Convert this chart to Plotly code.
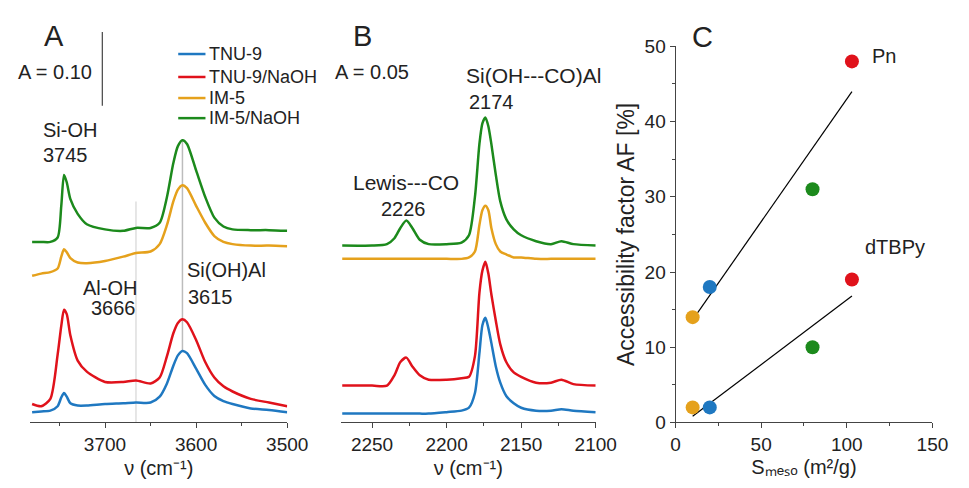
import numpy as np
import plotly.graph_objects as go

W, H = 969, 488
FONT = "Arial, Liberation Sans, sans-serif"

# ---------------- Panel A data (OH region, stacked spectra, absorbance) -------------
nu_A = [3780, 3770, 3760, 3752, 3748, 3745, 3742, 3738, 3730, 3720, 3700, 3680, 3666,
        3650, 3640, 3632, 3625, 3620, 3615, 3610, 3600, 3590, 3580, 3570, 3560, 3540,
        3520, 3500]
A_tnu9 = [0.014, 0.015, 0.016, 0.022, 0.034, 0.040, 0.035, 0.026, 0.023, 0.023, 0.025,
          0.026, 0.027, 0.027, 0.035, 0.053, 0.077, 0.091, 0.097, 0.094, 0.073, 0.051,
          0.036, 0.029, 0.025, 0.019, 0.017, 0.014]
A_tnu9_naoh = [0.025, 0.022, 0.032, 0.092, 0.131, 0.153, 0.147, 0.118, 0.084, 0.069,
               0.055, 0.055, 0.057, 0.053, 0.061, 0.090, 0.121, 0.135, 0.140, 0.136,
               0.112, 0.082, 0.061, 0.049, 0.042, 0.032, 0.027, 0.022]
A_im5 = [0.199, 0.202, 0.204, 0.209, 0.225, 0.235, 0.231, 0.223, 0.217, 0.216, 0.219,
         0.225, 0.230, 0.232, 0.242, 0.268, 0.300, 0.316, 0.322, 0.318, 0.294, 0.271,
         0.253, 0.245, 0.242, 0.240, 0.240, 0.239]
A_im5_naoh = [0.245, 0.245, 0.245, 0.251, 0.294, 0.336, 0.326, 0.303, 0.283, 0.269,
              0.262, 0.260, 0.264, 0.264, 0.271, 0.306, 0.352, 0.375, 0.383, 0.378,
              0.342, 0.306, 0.278, 0.266, 0.262, 0.261, 0.261, 0.260]

# ---------------- Panel B data (CO region) -------------
nu_B = [2270, 2250, 2240, 2235, 2231, 2227, 2223, 2218, 2212, 2200, 2190, 2185, 2181,
        2178, 2176, 2174, 2172, 2170, 2167, 2164, 2160, 2155, 2150, 2140, 2130, 2123,
        2115, 2100]
B_tnu9 = [0.006, 0.006, 0.006, 0.006, 0.006, 0.006, 0.006, 0.006, 0.006, 0.007, 0.008,
          0.010, 0.020, 0.047, 0.066, 0.071, 0.064, 0.054, 0.038, 0.027, 0.018, 0.013,
          0.010, 0.008, 0.008, 0.009, 0.008, 0.007]
B_tnu9_naoh = [0.025, 0.025, 0.025, 0.032, 0.041, 0.044, 0.038, 0.032, 0.029, 0.029,
               0.030, 0.031, 0.045, 0.088, 0.103, 0.109, 0.101, 0.087, 0.069, 0.053,
               0.041, 0.034, 0.031, 0.027, 0.027, 0.029, 0.026, 0.025]
B_im5 = [0.111, 0.111, 0.111, 0.111, 0.111, 0.111, 0.111, 0.111, 0.111, 0.111, 0.111,
         0.112, 0.116, 0.134, 0.144, 0.147, 0.144, 0.132, 0.121, 0.116, 0.114, 0.112,
         0.112, 0.111, 0.111, 0.111, 0.111, 0.111]
B_im5_naoh = [0.120, 0.120, 0.121, 0.125, 0.132, 0.137, 0.132, 0.124, 0.121, 0.121,
              0.122, 0.127, 0.153, 0.189, 0.203, 0.207, 0.201, 0.189, 0.168, 0.150,
              0.138, 0.131, 0.127, 0.123, 0.121, 0.123, 0.121, 0.120]

# ---------------- Panel C data -------------
samples = ["IM-5", "TNU-9", "IM-5/NaOH", "TNU-9/NaOH"]
s_meso = [10, 20, 80, 103]
af_pn = [14, 18, 31, 48]
af_dtbpy = [2, 2, 10, 19]

series_names = ["TNU-9", "TNU-9/NaOH", "IM-5", "IM-5/NaOH"]
colors = {"TNU-9": "#1f78c1", "TNU-9/NaOH": "#e0121b",
          "IM-5": "#e5a11c", "IM-5/NaOH": "#1c8a1c"}
sample_colors = [colors[s] for s in samples]

A_data = dict(zip(series_names, [A_tnu9, A_tnu9_naoh, A_im5, A_im5_naoh]))
B_data = dict(zip(series_names, [B_tnu9, B_tnu9_naoh, B_im5, B_im5_naoh]))


def px(x):
    return x / W


def py(y):
    return 1 - y / H


fig = go.Figure()

for name in series_names:
    fig.add_trace(go.Scatter(x=nu_A, y=A_data[name], mode="lines", name=name,
                             line=dict(color=colors[name], width=2.5, shape="spline",
                                       smoothing=0.7),
                             xaxis="x", yaxis="y", showlegend=False))
for name in series_names:
    fig.add_trace(go.Scatter(x=nu_B, y=B_data[name], mode="lines", name=name,
                             line=dict(color=colors[name], width=2.5, shape="spline",
                                       smoothing=0.7),
                             xaxis="x2", yaxis="y2", showlegend=False))

# Panel C least-squares fits
for vals in (af_pn, af_dtbpy):
    k, b = np.polyfit(s_meso, vals, 1)
    xs = [min(s_meso), max(s_meso)]
    fig.add_trace(go.Scatter(x=xs, y=[k * v + b for v in xs], mode="lines",
                             line=dict(color="black", width=1.2), showlegend=False,
                             xaxis="x3", yaxis="y3", hoverinfo="skip"))
for vals in (af_pn, af_dtbpy):
    fig.add_trace(go.Scatter(x=s_meso, y=vals, mode="markers", showlegend=False,
                             text=samples,
                             marker=dict(color=sample_colors, size=14),
                             xaxis="x3", yaxis="y3"))

y_bot = py(431)
axis_common = dict(showgrid=False, zeroline=False, showline=True, linecolor="#444",
                   linewidth=1, ticks="outside", ticklen=5, tickcolor="#444",
                   tickfont=dict(size=19, color="#222"),
                   title_font=dict(size=20, color="#222"))

fig.update_layout(
    width=W, height=H, margin=dict(l=0, r=0, t=0, b=0),
    paper_bgcolor="white", plot_bgcolor="white",
    font=dict(family=FONT, color="#222"),
    showlegend=False,
    xaxis=dict(domain=[px(26), px(290)], range=[3782, 3500], tickvals=[3700, 3600, 3500],
               minor=dict(tickvals=[3750, 3650, 3550], ticklen=3, ticks="outside",
                          tickcolor="#444"),
               anchor="y", title=dict(text="ν (cm⁻¹)", standoff=6),
               **axis_common),
    yaxis=dict(domain=[y_bot, 1], range=[0, 431 / 770], visible=False, anchor="x"),
    xaxis2=dict(domain=[px(345), px(607)], range=[2271, 2100],
                tickvals=[2250, 2200, 2150, 2100],
                minor=dict(tickvals=[2225, 2175, 2125], ticklen=3, ticks="outside",
                           tickcolor="#444"),
                anchor="y2", title=dict(text="ν (cm⁻¹)", standoff=6),
                **axis_common),
    yaxis2=dict(domain=[y_bot, 1], range=[0, 431 / 1540], visible=False, anchor="x2"),
    xaxis3=dict(domain=[px(689), px(953)], range=[0, 150], tickvals=[0, 50, 100, 150],
                minor=dict(tickvals=[25, 75, 125], ticklen=3, ticks="outside",
                           tickcolor="#444"),
                anchor="y3",
                title=dict(text="Sₘₑₛₒ (m²/g)", standoff=5),
                **axis_common),
    yaxis3=dict(domain=[y_bot, py(38)], range=[0, 50], tickvals=[0, 10, 20, 30, 40, 50],
                minor=dict(tickvals=[5, 15, 25, 35, 45], ticklen=3, ticks="outside",
                           tickcolor="#444"),
                anchor="x3",
                title=dict(text="Accessibility factor AF [%]", standoff=3,
                           font=dict(size=23, color="#222")),
                **{k: v for k, v in axis_common.items() if k != "title_font"}),
)

# reference lines & scale bar
shapes = [
    dict(type="line", xref="x", yref="paper", x0=3666, x1=3666, y0=py(431), y1=py(200),
         line=dict(color="#dedede", width=1.5), layer="below"),
    dict(type="line", xref="x", yref="paper", x0=3615, x1=3615, y0=py(357), y1=py(135),
         line=dict(color="#bcbcbc", width=1.5), layer="below"),
    dict(type="line", xref="paper", yref="paper", x0=px(100), x1=px(100), y0=py(23),
         y1=py(100), line=dict(color="#444", width=1.2)),
]


def ann(text, x, y, size=20, xanchor="center"):
    return dict(text=text, x=px(x), y=py(y), xref="paper", yref="paper",
                showarrow=False, xanchor=xanchor, yanchor="middle",
                font=dict(size=size, family=FONT, color="#222"))


annotations = [
    ann("A", 50, 27, 29), ann("A = 0.10", 51, 65),
    ann("Si-OH", 67, 125), ann("3745", 62, 152),
    ann("Al-OH", 108, 290), ann("3666", 112, 311),
    ann("Si(OH)Al", 228, 272), ann("3615", 211, 300),
    ann("B", 367, 27, 29), ann("A = 0.05", 377, 65),
    ann("Si(OH---CO)Al", 543, 68, 21), ann("2174", 500, 96),
    ann("Lewis---CO", 412, 180, 21), ann("2226", 410, 208),
    ann("C", 717, 28, 29),
    ann("Pn", 889, 48, 20, "left"), ann("dTBPy", 882, 248, 20, "left"),
]

# legend (line sample + label) for panel A
legend_rows = [46, 70, 92, 113]
for name, yy in zip(series_names, legend_rows):
    shapes.append(dict(type="line", xref="paper", yref="paper", x0=px(178), x1=px(206),
                       y0=py(yy), y1=py(yy), line=dict(color=colors[name], width=2.5)))
    annotations.append(ann(name, 208, yy, 18, "left"))

fig.update_layout(shapes=shapes, annotations=annotations)

fig.write_html("out.html")
